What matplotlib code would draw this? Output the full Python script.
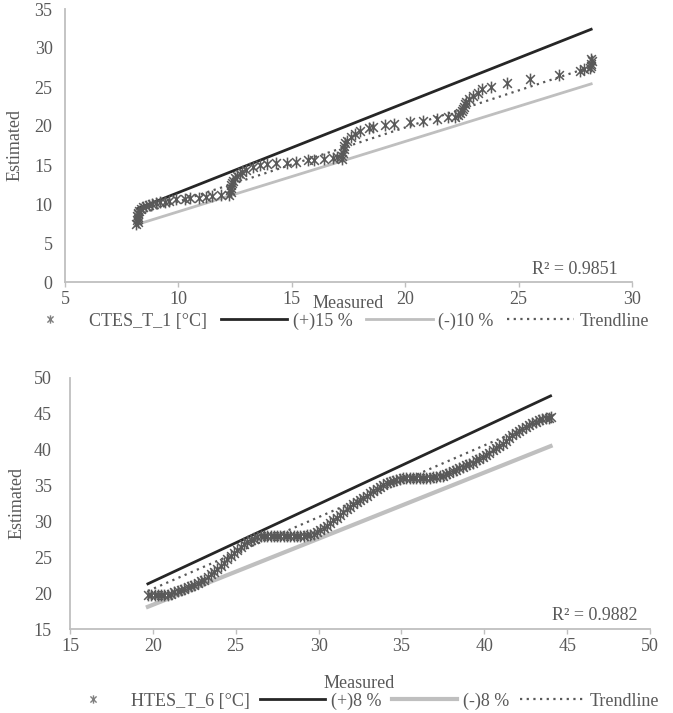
import matplotlib
matplotlib.use('Agg')
import matplotlib.pyplot as plt
from matplotlib.path import Path
from matplotlib.lines import Line2D

# --- CTES_T_1 (top chart) ---
ctes_measured = [8.15, 8.2, 8.18, 8.22, 8.2, 8.17, 8.23, 8.2, 8.25,
                 8.35, 8.45, 8.55, 8.7, 8.85, 9.0, 9.2, 9.4, 9.6, 9.9, 10.3, 10.5, 10.9, 11.2, 11.5, 11.9,
                 12.25, 12.3, 12.28, 12.32, 12.3, 12.35, 12.4, 12.5, 12.6, 12.7, 12.8,
                 13.0, 13.3, 13.6, 13.9, 14.3, 14.8, 15.2, 15.7, 16.0, 16.4, 16.8, 17.0,
                 17.2, 17.22, 17.25, 17.3, 17.3, 17.35, 17.45, 17.6, 17.8, 18.0,
                 18.4, 18.6, 19.1, 19.5, 20.2, 20.8, 21.4, 21.9,
                 22.2, 22.35, 22.4, 22.5, 22.55, 22.6, 22.65, 22.7, 22.8, 23.0,
                 23.2, 23.4, 23.8, 24.5, 25.5, 26.8, 27.7, 27.9,
                 28.15, 28.2, 28.2, 28.25, 28.2]
ctes_estimated = [7.5, 7.7, 7.9, 8.1, 8.3, 8.5, 8.7, 8.9, 9.1,
                  9.3, 9.6, 9.8, 9.9, 10.0, 10.1, 10.2, 10.3, 10.4, 10.6, 10.7, 10.8, 10.8, 10.9, 11.0, 11.2,
                  11.2, 11.5, 11.8, 12.1, 12.4, 12.7, 13.0, 13.3, 13.6, 13.9, 14.1,
                  14.4, 14.7, 15.0, 15.1, 15.2, 15.3, 15.4, 15.6, 15.7, 15.8, 15.9, 16.0,
                  15.8, 16.2, 16.6, 17.0, 17.4, 17.8, 18.1, 18.6, 19.0, 19.3,
                  19.7, 19.9, 20.1, 20.3, 20.5, 20.7, 20.9, 21.1,
                  21.2, 21.4, 21.7, 21.9, 22.2, 22.5, 22.8, 23.1, 23.4, 23.8,
                  24.2, 24.7, 25.0, 25.5, 26.0, 26.6, 27.0, 27.3,
                  27.4, 27.7, 28.0, 28.3, 28.6]
ctes_range = [8.2, 28.2]
ctes_plus15 = [9.4, 32.4]
ctes_minus10 = [7.4, 25.4]
ctes_trend = [8.6, 27.6]
ctes_r2 = 'R² = 0.9851'

# --- HTES_T_6 (bottom chart) ---
htes_measured = [19.7, 19.9, 20.1, 20.3, 20.5, 20.7, 20.9, 21.1, 21.3, 21.5,
                 21.7, 21.9, 22.1, 22.3, 22.5, 22.7, 22.9, 23.1, 23.3, 23.5,
                 23.7, 23.9, 24.1, 24.3, 24.5, 24.7, 24.9, 25.1, 25.3, 25.5,
                 25.7, 25.9, 26.1, 26.3, 26.5, 26.7, 26.9, 27.1, 27.3, 27.5,
                 27.7, 27.9, 28.1, 28.3, 28.5, 28.7, 28.9, 29.1, 29.3, 29.5,
                 29.7, 29.9, 30.1, 30.3, 30.5, 30.7, 30.9, 31.1, 31.3, 31.5,
                 31.7, 31.9, 32.1, 32.3, 32.5, 32.7, 32.9, 33.1, 33.3, 33.5,
                 33.7, 33.9, 34.1, 34.3, 34.5, 34.7, 34.9, 35.1, 35.3, 35.5,
                 35.7, 35.9, 36.1, 36.3, 36.5, 36.7, 36.9, 37.1, 37.3, 37.5,
                 37.7, 37.9, 38.1, 38.3, 38.5, 38.7, 38.9, 39.1, 39.3, 39.5,
                 39.7, 39.9, 40.1, 40.3, 40.5, 40.7, 40.9, 41.1, 41.3, 41.5,
                 41.7, 41.9, 42.1, 42.3, 42.5, 42.7, 42.9, 43.1, 43.3, 43.5,
                 43.7, 43.9, 44.0]
htes_estimated = [19.7, 19.8, 19.7, 19.8, 19.7, 19.8, 19.8, 19.9, 20.1, 20.3,
                  20.4, 20.6, 20.8, 21.0, 21.2, 21.4, 21.7, 21.9, 22.2, 22.6,
                  22.9, 23.3, 23.8, 24.2, 24.7, 25.2, 25.6, 26.0, 26.4, 26.8,
                  27.1, 27.4, 27.6, 27.8, 27.9, 28.0, 28.0, 28.0, 27.9, 28.0,
                  28.0, 28.0, 27.9, 28.0, 28.0, 28.0, 28.0, 28.0, 28.1, 28.1,
                  28.3, 28.5, 28.8, 29.1, 29.4, 29.8, 30.2, 30.5, 30.9, 31.3,
                  31.7, 32.0, 32.4, 32.7, 33.0, 33.3, 33.6, 33.9, 34.2, 34.5,
                  34.8, 35.1, 35.3, 35.5, 35.7, 35.8, 35.9, 36.0, 36.0, 36.1,
                  36.0, 36.1, 36.1, 36.0, 36.1, 36.1, 36.2, 36.2, 36.3, 36.4,
                  36.6, 36.8, 37.0, 37.2, 37.4, 37.6, 37.8, 38.0, 38.2, 38.5,
                  38.7, 39.0, 39.3, 39.6, 39.9, 40.2, 40.5, 40.8, 41.2, 41.6,
                  42.0, 42.3, 42.6, 42.9, 43.2, 43.5, 43.7, 43.9, 44.1, 44.3,
                  44.4, 44.4, 44.5]
htes_range = [19.7, 44.0]
htes_plus8 = [21.3, 47.5]
htes_minus8 = [18.1, 40.5]
htes_trend = [20.3, 44.6]
htes_r2 = 'R² = 0.9882'

plt.rcParams['font.family'] = 'Liberation Serif'
plt.rcParams['font.size'] = 13

TEXT = '#595959'
AXIS = '#BFBFBF'
MARK = '#595959'

# Excel-like star marker: an x with a vertical bar
star = Path([(-1, -1), (1, 1), (-1, 1), (1, -1), (0, -1.35), (0, 1.35)],
            [Path.MOVETO, Path.LINETO, Path.MOVETO, Path.LINETO, Path.MOVETO, Path.LINETO])


def style(ax, xlim, ylim, xstep, ystep, ypad):
    ax.set_xlim(xlim)
    ax.set_ylim(ylim)
    ax.set_xticks(range(xlim[0], xlim[1] + 1, xstep))
    ax.set_yticks(range(ylim[0], ylim[1] + 1, ystep))
    for s in ['top', 'right']:
        ax.spines[s].set_visible(False)
    for s in ['left', 'bottom']:
        ax.spines[s].set_color(AXIS)
        ax.spines[s].set_linewidth(1.3)
    ax.tick_params(axis='x', direction='out', length=3.5, width=1, color=AXIS,
                   labelcolor=TEXT, pad=3, labelsize=13)
    ax.tick_params(axis='y', length=0, labelcolor=TEXT, pad=ypad, labelsize=13)


fig = plt.figure(figsize=(6.73, 7.13), dpi=100)

# top chart
ax1 = fig.add_axes([65 / 673, 1 - 282 / 713, 567 / 673, 273 / 713])
style(ax1, (5, 30), (0, 35), 5, 5, 9)
ax1.plot(ctes_range, ctes_plus15, color='#262626', lw=2)
ax1.plot(ctes_range, ctes_minus10, color='#BFBFBF', lw=2)
ax1.plot(ctes_range, ctes_trend, color=MARK, lw=1.6, ls=(0, (1, 2)))
ax1.plot(ctes_measured, ctes_estimated, ls='none', marker=star, ms=8.5,
         mec=MARK, mew=1.1, color=MARK)
ax1.text(0.974, 0.044, ctes_r2, transform=ax1.transAxes, ha='right', va='center',
         color=TEXT, fontsize=13)
fig.text(15 / 673, 1 - 145 / 713, 'Estimated', rotation=90, ha='center', va='center',
         color=TEXT, fontsize=13)
fig.text(348 / 673, 1 - 304 / 713, 'Measured', ha='center', va='center', color=TEXT, fontsize=13)

h1 = [Line2D([], [], ls='none', marker=star, ms=6, mec='#7f7f7f', mew=1),
      Line2D([], [], color='#262626', lw=2),
      Line2D([], [], color='#BFBFBF', lw=2),
      Line2D([], [], color=MARK, lw=1.6, ls=(0, (1, 2)))]
fig.legend(h1, ['CTES_T_1 [°C]', '(+)15 %', '(-)10 %', 'Trendline'], ncol=4,
           loc='center', bbox_to_anchor=(333 / 673, 1 - 321 / 713), frameon=False,
           handlelength=3.7, handletextpad=0.3, columnspacing=0.75, borderpad=0,
           labelcolor=TEXT, fontsize=13)

# bottom chart
ax2 = fig.add_axes([70 / 673, 1 - 629 / 713, 580 / 673, 251 / 713])
style(ax2, (15, 50), (15, 50), 5, 5, 13)
ax2.plot(htes_range, htes_plus8, color='#262626', lw=2)
ax2.plot(htes_range, htes_minus8, color='#BFBFBF', lw=3)
ax2.plot(htes_range, htes_trend, color=MARK, lw=1.6, ls=(0, (1, 2)))
ax2.plot(htes_measured, htes_estimated, ls='none', marker=star, ms=8.5,
         mec=MARK, mew=1.1, color=MARK)
ax2.text(0.979, 0.052, htes_r2, transform=ax2.transAxes, ha='right', va='center',
         color=TEXT, fontsize=13)
fig.text(17 / 673, 1 - 503 / 713, 'Estimated', rotation=90, ha='center', va='center',
         color=TEXT, fontsize=13)
fig.text(359 / 673, 1 - 683 / 713, 'Measured', ha='center', va='center', color=TEXT, fontsize=13)

h2 = [Line2D([], [], ls='none', marker=star, ms=6, mec='#7f7f7f', mew=1),
      Line2D([], [], color='#262626', lw=2),
      Line2D([], [], color='#BFBFBF', lw=3),
      Line2D([], [], color=MARK, lw=1.6, ls=(0, (1, 2)))]
fig.legend(h2, ['HTES_T_6 [°C]', '(+)8 %', '(-)8 %', 'Trendline'], ncol=4,
           loc='center', bbox_to_anchor=(360 / 673, 1 - 701 / 713), frameon=False,
           handlelength=3.6, handletextpad=0.3, columnspacing=0.6, borderpad=0,
           labelcolor=TEXT, fontsize=13)

plt.savefig('out.png', dpi=100)
